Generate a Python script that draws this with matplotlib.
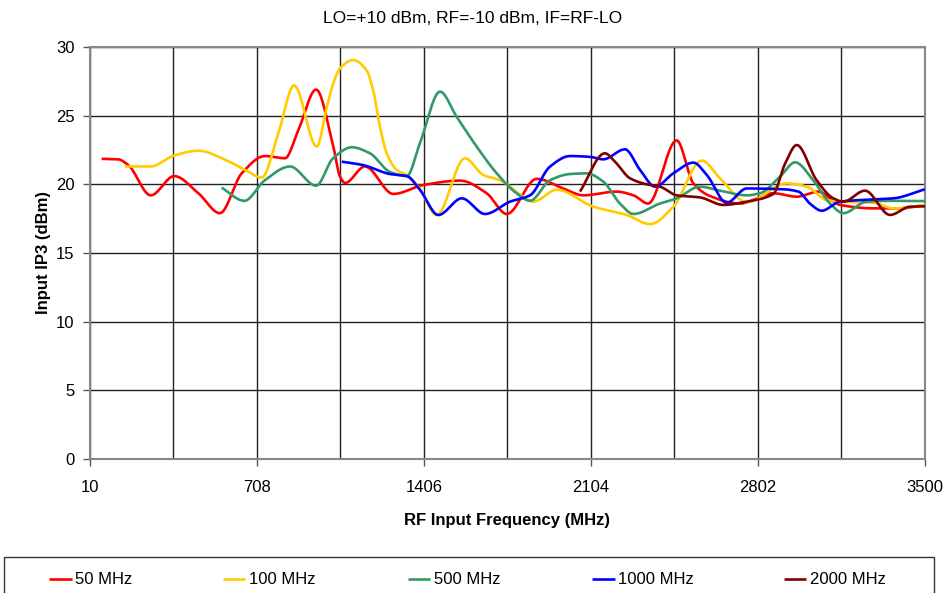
import numpy as np
import matplotlib
matplotlib.use("Agg")
import matplotlib.pyplot as plt
from matplotlib.patches import Rectangle

# ---- data (RF frequency in MHz, Input IP3 in dBm) ----
f_50 = [59, 128, 170, 264, 362, 463, 553, 644, 741, 825, 881, 955, 1027, 1055, 1076, 1159, 1278, 1403,
        1557, 1668, 1752, 1877, 1988, 2072, 2211, 2281, 2343, 2462, 2532, 2601, 2727, 2866, 2964,
        3054, 3145, 3284, 3395, 3500]
v_50 = [21.86, 21.82, 21.4, 19.2, 20.6, 19.35, 17.9, 20.8, 22.06, 21.9, 23.96, 26.9, 22.75, 20.56, 20.1,
        21.3, 19.3, 19.95, 20.27, 19.35, 17.84, 20.4, 19.7, 19.2, 19.47, 19.2, 18.6, 23.2, 20.07, 19.15,
        18.6, 19.35, 19.1, 19.47, 18.5, 18.25, 18.25, 18.5]

f_100 = [156, 264, 362, 463, 574, 658, 728, 797, 863, 958, 1000, 1027, 1055, 1110, 1166, 1194, 1222,
         1250, 1292, 1334, 1382, 1459, 1577, 1654, 1724, 1821, 1863, 1961, 2114, 2253, 2351, 2448,
         2567, 2643, 2755, 2922, 3006, 3089, 3145, 3284, 3368, 3500]
v_100 = [21.3, 21.3, 22.1, 22.45, 21.8, 21.05, 20.5, 23.7, 27.2, 22.75, 25.65, 27.35, 28.45, 29.05,
         28.3, 26.8, 24.2, 22.26, 21.05, 20.68, 19.83, 17.77, 21.9, 20.68, 20.3, 19.1, 18.74, 19.6,
         18.37, 17.77, 17.1, 18.37, 21.73, 20.44, 18.7, 20.07, 19.83, 18.86, 18.74, 18.66, 18.25, 18.5]

f_500 = [560, 655, 741, 846, 955, 1026, 1105, 1180, 1264, 1334, 1389, 1473, 1543, 1626, 1710, 1793,
         1849, 1933, 2016, 2086, 2155, 2225, 2281, 2392, 2462, 2559, 2643, 2755, 2810, 2894, 2957,
         3033, 3103, 3159, 3256, 3354, 3500]
v_500 = [19.76, 18.8, 20.3, 21.3, 19.9, 21.9, 22.7, 22.26, 20.9, 20.6, 23.0, 26.75, 24.9, 22.75, 20.8,
         19.35, 18.8, 20.3, 20.75, 20.8, 20.2, 18.6, 17.84, 18.6, 18.98, 19.83, 19.54, 19.2, 19.35, 20.56,
         21.6, 20.3, 18.6, 17.9, 18.74, 18.8, 18.78]

f_1000 = [1062, 1152, 1264, 1334, 1389, 1466, 1564, 1661, 1766, 1849, 1933, 2016, 2100, 2155, 2246,
          2309, 2372, 2448, 2532, 2588, 2671, 2755, 2908, 2971, 3019, 3068, 3145, 3284, 3368, 3500]
v_1000 = [21.65, 21.4, 20.75, 20.6, 19.6, 17.77, 18.98, 17.84, 18.74, 19.2, 21.3, 22.06, 22.0, 21.82,
          22.55, 21.05, 19.83, 20.8, 21.58, 20.68, 18.66, 19.7, 19.64, 19.47, 18.6, 18.08, 18.74, 18.9,
          18.98, 19.64]

f_2000 = [2058, 2162, 2204, 2267, 2337, 2392, 2462, 2559, 2657, 2755, 2866, 2915, 2964, 3047, 3117,
          3159, 3249, 3354, 3437, 3500]
v_2000 = [19.47, 22.26, 21.65, 20.44, 20.0, 19.83, 19.2, 19.05, 18.5, 18.74, 19.3, 21.5, 22.86, 20.3,
          18.98, 18.74, 19.54, 17.77, 18.37, 18.4]

series_labels = ["50 MHz", "100 MHz", "500 MHz", "1000 MHz", "2000 MHz"]
series_colors = ["#FF0000", "#FFCC00", "#339966", "#0000FF", "#800000"]
x_ticks = [10, 708, 1406, 2104, 2802, 3500]
y_ticks = [0, 5, 10, 15, 20, 25, 30]
title = "LO=+10 dBm, RF=-10 dBm, IF=RF-LO"
x_label = "RF Input Frequency (MHz)"
y_label = "Input IP3 (dBm)"


def smooth(x, y, n=20):
    """Monotone cubic (PCHIP) smoothing through the measured points."""
    x = np.asarray(x, float)
    y = np.asarray(y, float)
    h = np.diff(x)
    d = np.diff(y) / h
    m = np.zeros_like(y)
    m[0], m[-1] = d[0], d[-1]
    for k in range(1, len(x) - 1):
        if d[k - 1] * d[k] <= 0:
            m[k] = 0.0
        else:
            w1 = 2 * h[k] + h[k - 1]
            w2 = h[k] + 2 * h[k - 1]
            m[k] = (w1 + w2) / (w1 / d[k - 1] + w2 / d[k])
    xs, ys = [], []
    for k in range(len(x) - 1):
        t = np.linspace(0, 1, n, endpoint=False)
        h00 = 2 * t**3 - 3 * t**2 + 1
        h10 = t**3 - 2 * t**2 + t
        h01 = -2 * t**3 + 3 * t**2
        h11 = t**3 - t**2
        xs.append(x[k] + t * h[k])
        ys.append(h00 * y[k] + h10 * h[k] * m[k] + h01 * y[k + 1] + h11 * h[k] * m[k + 1])
    xs.append([x[-1]])
    ys.append([y[-1]])
    return np.concatenate(xs), np.concatenate(ys)


plt.rcParams["font.family"] = ["Liberation Sans", "DejaVu Sans"]

W, H = 945, 593
fig = plt.figure(figsize=(W / 100, H / 100), dpi=100)
ax = fig.add_axes([90 / W, 1 - 459 / H, 835 / W, 412 / H])

data = [(f_50, v_50), (f_100, v_100), (f_500, v_500), (f_1000, v_1000), (f_2000, v_2000)]
handles = []
for (fx, vy), lab, col in zip(data, series_labels, series_colors):
    sx, sy = smooth(fx, vy)
    ln, = ax.plot(sx, sy, color=col, lw=1.9, label=lab, solid_capstyle="butt", zorder=3)
    handles.append(ln)

ax.set_xlim(10, 3500)
ax.set_ylim(0, 30)
ax.set_xticks(x_ticks)
ax.set_xticklabels([str(t) for t in x_ticks])
minor = [(a + b) / 2 for a, b in zip(x_ticks[:-1], x_ticks[1:])]
ax.set_xticks(minor, minor=True)
ax.set_yticks(y_ticks)

ax.grid(True, which="major", axis="both", color="#222222", lw=1.0, zorder=1)
ax.grid(True, which="minor", axis="x", color="#222222", lw=1.0, zorder=1)
ax.tick_params(axis="x", which="minor", length=0)
ax.tick_params(axis="both", which="major", direction="out", length=5, width=1,
               color="#555555", labelsize=12, pad=6)
ax.tick_params(axis="x", which="major", pad=10)
for s in ax.spines.values():
    s.set_color("#888888")
    s.set_linewidth(1.5)

# title centred on the figure (as in the reference), not on the axes
ax.set_title(title, fontsize=12.5, pad=17, x=(W / 2 - 90) / 835)
ax.set_xlabel(x_label, fontsize=12, fontweight="bold", labelpad=13)
ax.set_ylabel(y_label, fontsize=12, fontweight="bold", labelpad=4)

# legend box (extends past bottom edge like the reference)
fig.patches.append(Rectangle((4 / W, -0.05), 930 / W, 0.05 + (H - 557) / H,
                             transform=fig.transFigure, fill=False, edgecolor="#333333",
                             lw=1.0))
leg_x = [49, 223, 408, 592, 784]
for h, lab, lx in zip(handles, series_labels, leg_x):
    lg = fig.legend([h], [lab], loc="center left", frameon=False,
                    bbox_to_anchor=(lx / W, 1 - 580 / H), fontsize=12,
                    handlelength=1.35, handletextpad=0.2, borderaxespad=0, borderpad=0)

fig.savefig("out.png", dpi=100)
